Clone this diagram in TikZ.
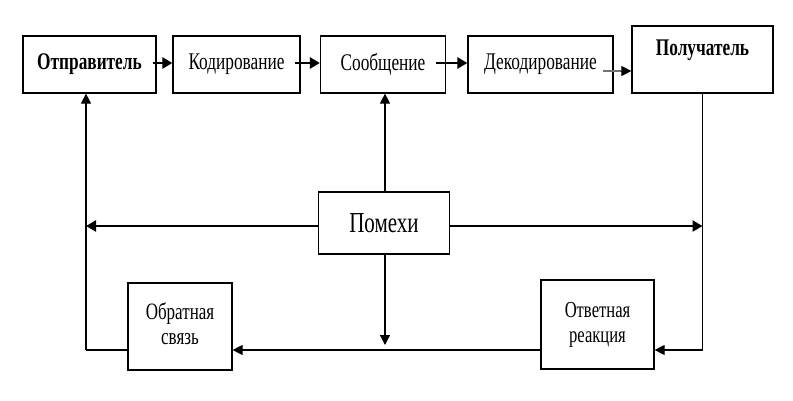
\documentclass[tikz,border=0pt]{standalone}
\usepackage{fontspec}
\setmainfont{Liberation Serif}
\usepackage{graphicx}
\usetikzlibrary{arrows.meta}
\newcommand\stt[1]{\scalebox{1}[1.38]{#1}}
\begin{document}
\begin{tikzpicture}[x=1pt,y=-1pt,
  box/.style={draw,line width=1.2pt,inner sep=0pt,anchor=center},
  thk/.style={line width=2.6pt,-{Triangle[length=10pt,width=11pt]}},
  thn/.style={line width=1.2pt,-{Triangle[length=10pt,width=10pt]}},
  ln/.style={line width=1.2pt},
  lab/.style={font=\fontsize{17.3}{19}\selectfont}]
\fill[white] (0,0) rectangle (793,400);
\useasboundingbox (0,0) rectangle (793,400);
% top row
\node[box,minimum width=133pt,minimum height=57pt,lab] (otpr) at (89.5,64.5) {\stt{\bfseries Отправитель}};
\node[box,minimum width=127pt,minimum height=57pt,lab] (kod) at (236.5,64.5) {\stt{Кодирование}};
\node[box,minimum width=125pt,minimum height=57pt,lab] (soob) at (383,64.5) {\stt{Сообщение}};
\node[box,minimum width=145pt,minimum height=57pt,lab] (dekod) at (540.5,64.5) {\stt{Декодирование}};
\node[box,minimum width=141pt,minimum height=67pt] (polu) at (702.5,59.5) {};
\node[lab,anchor=center] (polut) at (702.5,50) {\stt{\bfseries Получатель}};
% middle
\node[box,minimum width=131pt,minimum height=62pt,font=\fontsize{21}{23}\selectfont] (pom) at (384,223) {\stt{Помехи}};
% bottom
\node[box,minimum width=104pt,minimum height=87pt] (obr) at (180,326.5) {};
\node[anchor=center,font=\fontsize{17}{18}\selectfont] (obrt) at (180,327) {\stt{\begin{tabular}{@{}c@{}}Обратная\\[-0.5pt]связь\end{tabular}}};
\node[box,minimum width=113pt,minimum height=89pt] (otv) at (597.5,324.5) {};
\node[anchor=center,font=\fontsize{16.6}{18}\selectfont] (otvt) at (597.5,325) {\stt{\begin{tabular}{@{}c@{}}Ответная\\[-0.5pt]реакция\end{tabular}}};
% coordinates
\coordinate (L) at (86,226);
\coordinate (R) at (702.5,226);
\coordinate (BL) at (86,350);
\coordinate (BR) at (702.5,350);
\coordinate (D) at (385,345);
% top arrows
\draw[thk] ([xshift=-4pt,yshift=1.5pt]otpr.east) -- ([yshift=1.5pt]kod.west);
\draw[thk] ([xshift=-6pt,yshift=1.5pt]kod.east) -- ([yshift=1.5pt]soob.west);
\draw[thk] ([xshift=-10pt,yshift=1.5pt]soob.east) -- ([yshift=1.5pt]dekod.east -| dekod.west);
\coordinate (d1) at ([xshift=-11pt,yshift=-6.5pt]dekod.east);
\draw[line width=2.4pt,black!55] (d1) -- ([xshift=-10pt]d1 -| polu.west);
\draw[thn,line width=1pt] ([xshift=-10.5pt]d1 -| polu.west) -- (d1 -| polu.west);
% noise arrows
\draw[thn] (pom.north -| D) -- (soob.south -| D);
\draw[thk] (pom.west |- L) -- (L);
\draw[thk] (pom.east |- R) -- (R);
\draw[thn] (pom.south -| D) -- (D);
% feedback loop
\draw[ln] (polu.south) -- (BR);
\draw[thn] (BR) -- (otv.east |- BR);
\draw[thn] (otv.west |- BR) -- (obr.east |- BL);
\draw[ln] (obr.west |- BL) -- (BL);
\draw[thn] (BL) -- (otpr.south -| BL);
\end{tikzpicture}
\end{document}
